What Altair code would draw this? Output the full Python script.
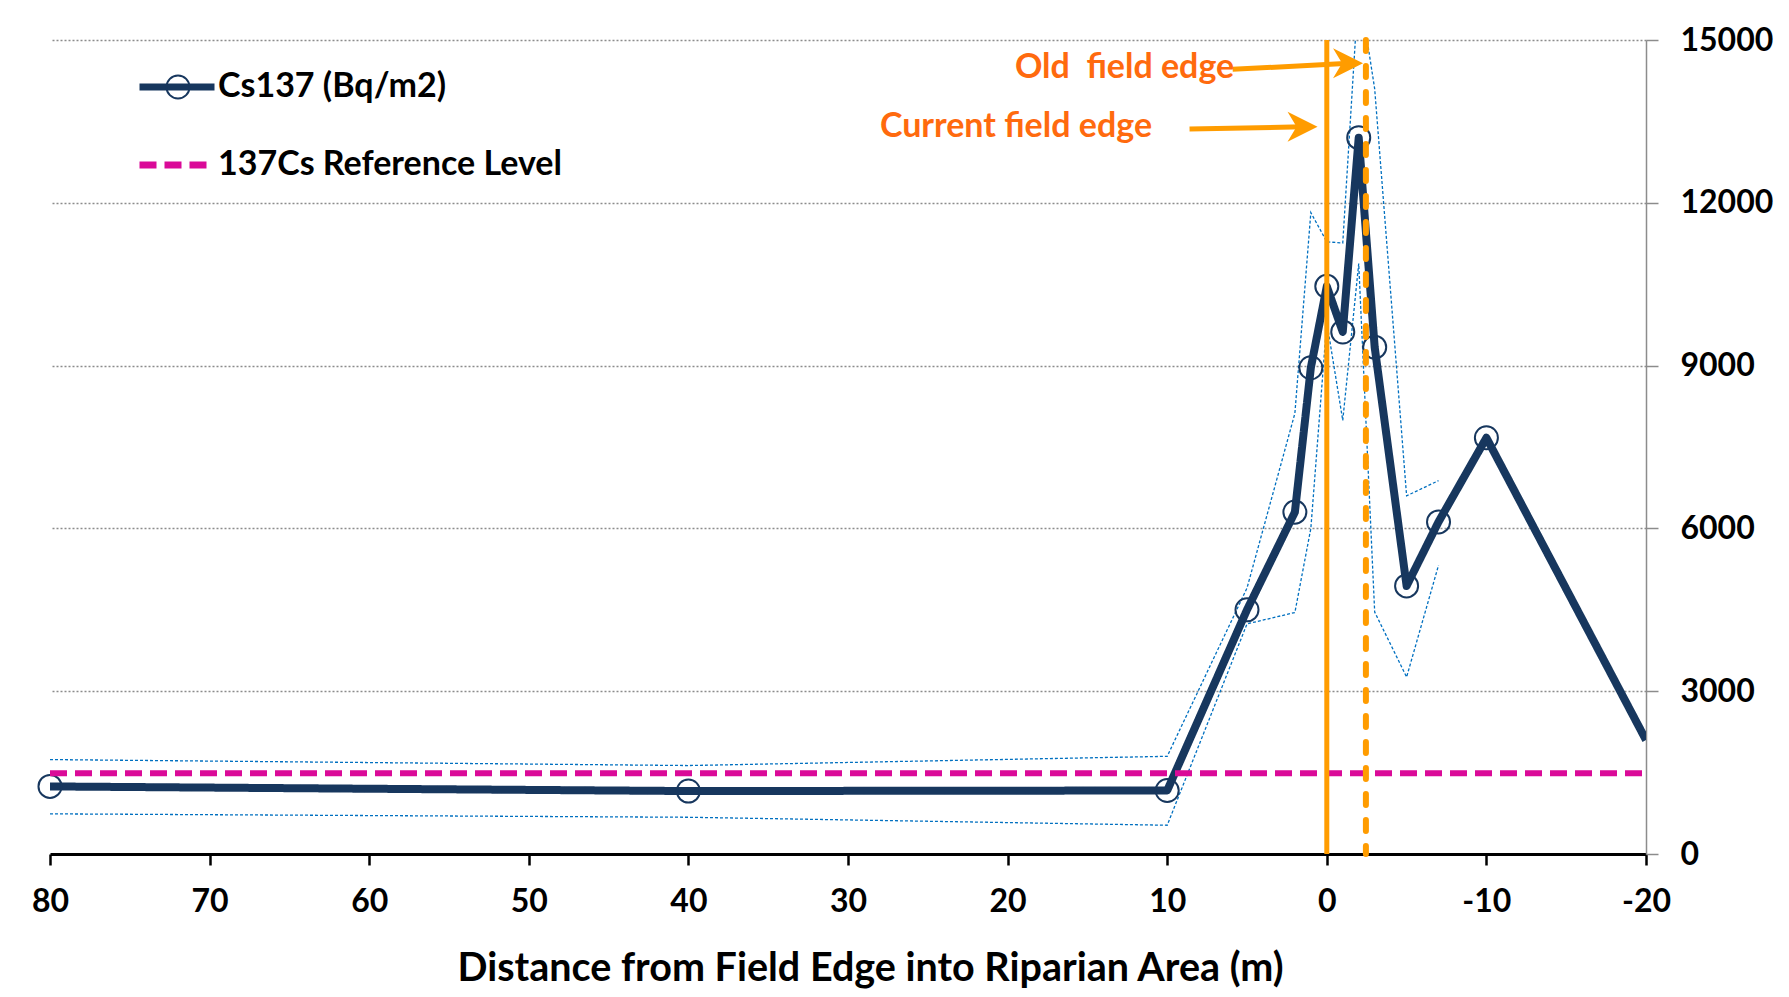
import altair as alt
import pandas as pd

# ---------------- data ----------------
dist = [80, 40, 10, 5, 2, 1, 0, -1, -2, -3, -5, -7, -10, -20]
cs137 = [1245, 1160, 1170, 4500, 6300, 8960, 10460, 9620, 13200, 9340, 4940, 6120, 7670, 2100]

band_x = [80, 40, 10, 5, 2, 1, 0, -1, -2, -3, -5, -7]
upper = [1740, 1630, 1800, 4900, 8120, 11820, 11280, 11260, 16000, 14100, 6600, 6880]
lower = [740, 677, 530, 4240, 4450, 6000, 9800, 7990, 10880, 4460, 3260, 5320]

ref_x = [80, -20]
ref_level = [1490, 1490]

current_edge_x = [0]
old_edge_x = [-2.45]

ann_text = ["Old\u00a0 field edge", "Current field edge"]
ann_text_x = [5.8, 10.95]
ann_text_y = [14490, 13400]
arrow_x0 = [5.9, 8.6]
arrow_x1 = [-1.4, 1.5]
arrow_y0 = [14460, 13360]
arrow_y1 = [14570, 13400]
head_x = [-1.33, 1.52]
head_y = [14570, 13400]

x_ticks = [80, 70, 60, 50, 40, 30, 20, 10, 0, -10, -20]
y_ticks = [0, 3000, 6000, 9000, 12000, 15000]

series_names = ["Cs137 (Bq/m2)", "137Cs Reference Level"]
marker_names = ["Cs137 (Bq/m2) marker"]

# ---------------- styles ----------------
FONT = "Lato"
NAVY = "#17375E"
BLUE = "#0070C0"
MAGENTA = "#DA0A98"
ORANGE = "#FF9C00"
ORANGE_TXT = "#FF6A0E"
GRID = "#8C8C8C"

W, H = 1596, 814

main_df = pd.DataFrame({"x": dist, "y": cs137, "series": series_names[0], "marker": marker_names[0]})
ref_df = pd.DataFrame({"x": ref_x, "y": ref_level, "series": series_names[1]})
band_df = pd.concat([
    pd.DataFrame({"x": band_x, "y": upper, "bound": "upper"}),
    pd.DataFrame({"x": band_x, "y": lower, "bound": "lower"}),
])
cur_df = pd.DataFrame({"x": current_edge_x})
old_df = pd.DataFrame({"x": old_edge_x})
ann_df = pd.DataFrame({"t": ann_text, "x": ann_text_x, "y": ann_text_y})
arrow_df = pd.DataFrame({"x": arrow_x0, "x2": arrow_x1, "y": arrow_y0, "y2": arrow_y1})
head_df = pd.DataFrame({"x": head_x, "y": head_y})

x_scale = alt.Scale(domain=[80, -20], nice=False, zero=False)
y_scale = alt.Scale(domain=[0, 15000], nice=False, zero=False)

x_axis = alt.Axis(
    values=x_ticks, labelExpr="'' + datum.value", orient="bottom",
    domainColor="black", domainWidth=3, tickColor="black", tickWidth=2.5, tickSize=11,
    labelFont=FONT, labelFontSize=32, labelFontWeight="bold", labelColor="black",
    labelBaseline="middle", labelPadding=36, labelFlush=False, labelOverlap=False,
    grid=False,
    title="Distance from Field Edge into Riparian Area (m)",
    titleFont=FONT, titleFontSize=39.5, titleFontWeight="bold", titleColor="black",
    titleX=820, titleY=114, titleBaseline="middle", titleAlign="center",
)
y_axis = alt.Axis(
    orient="right", values=y_ticks, format="d",
    grid=True, gridColor=GRID, gridDash=[2, 2], gridWidth=1.3,
    domainColor=GRID, domainWidth=1.5, tickColor=GRID, tickWidth=1.5, tickSize=12,
    labelFont=FONT, labelFontSize=32, labelFontWeight="bold", labelColor="black",
    labelAlign="left", labelBaseline="middle", labelPadding=22, labelOverlap=False,
    title=None,
)

X = alt.X("x:Q", scale=x_scale, axis=x_axis)
Y = alt.Y("y:Q", scale=y_scale, axis=y_axis)
Xn = alt.X("x:Q", scale=x_scale)
Yn = alt.Y("y:Q", scale=y_scale)

legend = alt.Legend(
    title=None, orient="none", legendX=86, legendY=6,
    symbolType="stroke", symbolSize=5625, symbolStrokeWidth=7,
    labelFont=FONT, labelFontSize=34, labelFontWeight="bold", labelColor="black",
    labelOffset=0, labelLimit=0, rowPadding=20, padding=0,
)
color = alt.Color("series:N", scale=alt.Scale(domain=series_names, range=[NAVY, MAGENTA]), legend=legend)
dash = alt.StrokeDash("series:N", scale=alt.Scale(domain=series_names, range=[[1, 0], [17, 8]]), legend=legend)

marker_legend = alt.Legend(
    title=None, orient="none", legendX=115, legendY=34,
    symbolType="circle", symbolSize=530, symbolStrokeWidth=2,
    symbolStrokeColor=NAVY, symbolFillColor="transparent",
    labelExpr="''", labelFontSize=1, padding=0,
)

band = alt.Chart(band_df).mark_line(
    strokeWidth=1.3, strokeDash=[3, 2], color=BLUE, clip=True
).encode(x=X, y=Y, detail="bound:N")

main_line = alt.Chart(main_df).mark_line(
    strokeWidth=8, strokeJoin="round", clip=True
).encode(x=Xn, y=Yn, color=color, strokeDash=dash)

circles = alt.Chart(main_df).transform_filter("datum.x > -20").mark_point(
    size=530, filled=False, strokeWidth=2, color=NAVY, opacity=1
).encode(
    x=Xn, y=Yn,
    shape=alt.Shape("marker:N", scale=alt.Scale(domain=marker_names, range=["circle"]), legend=marker_legend),
)

ref_line = alt.Chart(ref_df).mark_line(
    strokeWidth=6
).encode(x=Xn, y=Yn, color=color, strokeDash=dash)

cur_edge = alt.Chart(cur_df).mark_rule(color=ORANGE, strokeWidth=5).encode(x=Xn)
old_edge = alt.Chart(old_df).mark_rule(
    color=ORANGE, strokeWidth=6, strokeDash=[11, 15], strokeCap="round"
).encode(x=Xn)

arrows = alt.Chart(arrow_df).mark_rule(color=ORANGE, strokeWidth=5).encode(
    x=Xn, x2="x2:Q", y=Yn, y2="y2:Q"
)
heads = alt.Chart(head_df).mark_point(
    shape="M-1,-1L1,0L-1,1L-0.4,0Z", size=900, filled=True, color=ORANGE, opacity=1
).encode(x=Xn, y=Yn)

texts = alt.Chart(ann_df).mark_text(
    align="right", baseline="middle", font=FONT, fontSize=34, fontWeight="bold", color=ORANGE_TXT
).encode(x=Xn, y=Yn, text="t:N")

chart = alt.layer(
    band, main_line, circles, ref_line, cur_edge, old_edge, arrows, heads, texts
).properties(
    width=W, height=H,
    autosize=alt.AutoSizeParams(type="none"),
    padding={"left": 50, "top": 40, "right": 143, "bottom": 143},
    background="white",
).configure_view(stroke=None)

chart.save("out.html", embed_options={"renderer": "svg", "actions": False})
